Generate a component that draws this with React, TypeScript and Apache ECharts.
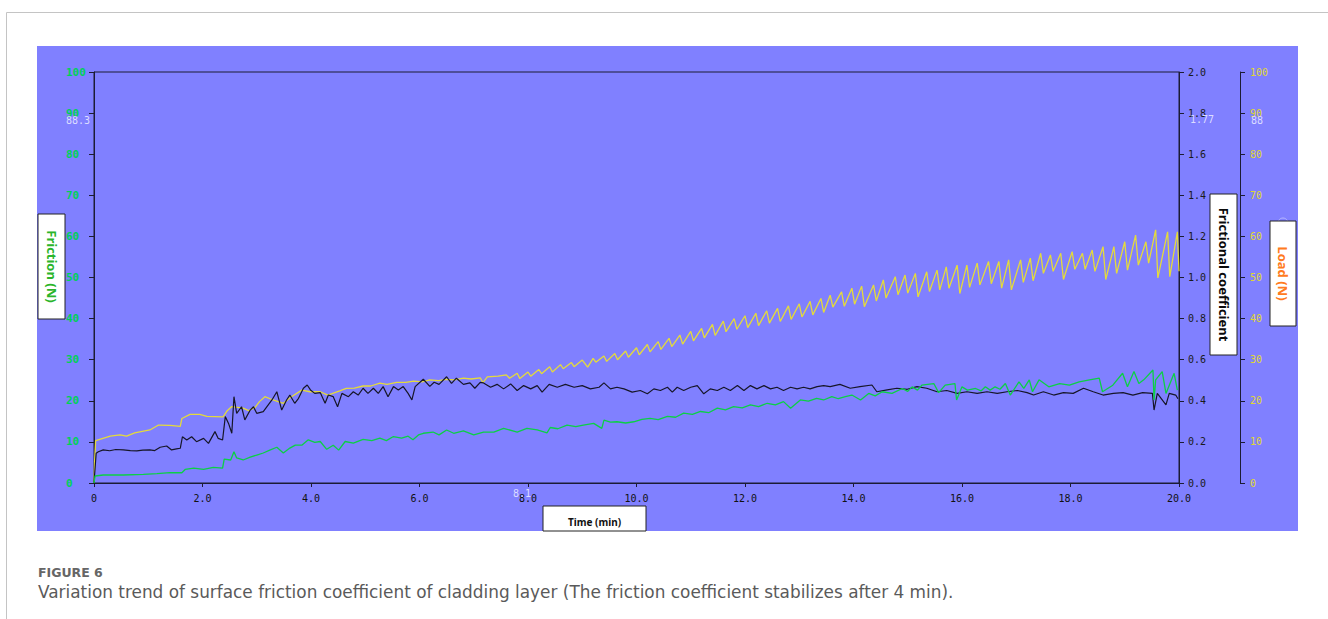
import React, { useEffect, useRef } from "react";
import * as echarts from "echarts";

// Time (min) ticks
const xTicks = [0, 2, 4, 6, 8, 10, 12, 14, 16, 18, 20];

// Load (N) — yellow, right outer axis
const loadData: [number, number][] = [
  [0, 0], [0.01, 5], [0.03, 10.3], [0.15, 10.8], [0.3, 11.4], [0.48, 11.7], [0.6, 11.4], [0.75, 12.2],
  [1.03, 12.9], [1.19, 14.1], [1.4, 14.0], [1.59, 13.8], [1.62, 15.7], [1.77, 16.7], [1.95, 16.7],
  [2.08, 16.2], [2.38, 16.1], [2.45, 17.5], [2.54, 18.6], [2.75, 18.2], [2.85, 17.6], [2.97, 18.4],
  [3.05, 19.8], [3.15, 21.0], [3.3, 20.2], [3.49, 19.4], [3.64, 21.0], [3.83, 22.6], [3.98, 22.2],
  [4.17, 22.2], [4.31, 21.4], [4.53, 22.4], [4.65, 23.0], [4.8, 23.1], [4.96, 23.6], [5.1, 23.6],
  [5.27, 24.3], [5.4, 24.0], [5.58, 24.5], [5.75, 24.5], [5.89, 24.8], [6.05, 24.6], [6.19, 25.1],
  [6.35, 24.9], [6.5, 25.2], [6.65, 25.1], [6.81, 25.5], [6.95, 25.3], [7.12, 25.6], [7.17, 24.4],
  [7.25, 25.8], [7.45, 26.0], [7.6, 26.3], [7.66, 25.5],
  [7.8, 26.7], [7.85, 25.4], [8.0, 27.0], [8.05, 26.0], [8.2, 27.6], [8.25, 26.6], [8.4, 28.3], [8.45, 27.0],
  [8.6, 28.8], [8.65, 27.8], [8.8, 29.3], [8.85, 28.3], [9.0, 29.9], [9.1, 28.2], [9.2, 30.3], [9.25, 29.4],
  [9.4, 30.9], [9.45, 29.6], [9.6, 31.5], [9.65, 30.0], [9.8, 32.1], [9.85, 30.6], [10.0, 32.9], [10.05, 31.2],
  [10.2, 33.7], [10.25, 31.9], [10.4, 34.4], [10.45, 32.5], [10.6, 35.2], [10.65, 33.2], [10.8, 36.0], [10.85, 33.8],
  [11.0, 36.9], [11.05, 34.6], [11.2, 37.6], [11.25, 35.3], [11.4, 38.6], [11.45, 35.9], [11.6, 39.4], [11.65, 36.8],
  [11.8, 40.0], [11.85, 37.4], [12.0, 40.7], [12.05, 37.8], [12.2, 41.3], [12.25, 38.3], [12.4, 41.9], [12.45, 38.9],
  [12.6, 42.5], [12.65, 39.3], [12.8, 43.1], [12.85, 39.8], [13.0, 43.6], [13.05, 40.4], [13.2, 44.2], [13.25, 40.9],
  [13.4, 44.9], [13.45, 41.5], [13.57, 45.7], [13.62, 42.8], [13.78, 46.5], [13.83, 43.0], [13.97, 47.4], [14.02, 43.5],
  [14.15, 47.9], [14.2, 42.9], [14.37, 48.2], [14.42, 44.3], [14.55, 49.4], [14.6, 45.0], [14.77, 50.2], [14.82, 45.8],
  [14.95, 50.6], [15.0, 46.2], [15.14, 51.0], [15.19, 45.3], [15.35, 51.4], [15.4, 46.6], [15.54, 51.8], [15.59, 47.0],
  [15.71, 52.6], [15.76, 47.4], [15.91, 53.0], [15.96, 46.1], [16.09, 53.0], [16.14, 47.6], [16.28, 53.5], [16.33, 48.2],
  [16.49, 53.9], [16.54, 48.5], [16.68, 53.9], [16.73, 47.4], [16.86, 54.3], [16.91, 47.0], [17.08, 54.3], [17.13, 48.8],
  [17.26, 54.7], [17.31, 49.2], [17.45, 55.9], [17.5, 51.0], [17.63, 55.5], [17.68, 51.5], [17.82, 55.9], [17.87, 49.5],
  [18.03, 56.3], [18.08, 52.0], [18.22, 55.9], [18.27, 52.0], [18.4, 56.7], [18.45, 51.5], [18.6, 57.5], [18.65, 49.5],
  [18.8, 57.5], [18.85, 51.0], [19.0, 58.7], [19.05, 51.8], [19.2, 60.3], [19.25, 53.0], [19.39, 58.7], [19.44, 53.5],
  [19.57, 61.6], [19.61, 49.9], [19.79, 61.1], [19.83, 50.2], [19.97, 61.1], [20.0, 51.5],
];

// Frictional coefficient — black, right inner axis
const coefData: [number, number][] = [
  [0, 0], [0.04, 0.145], [0.08, 0.152], [0.17, 0.161], [0.29, 0.157], [0.4, 0.163], [0.54, 0.161], [0.67, 0.158],
  [0.79, 0.156], [0.9, 0.16], [1.03, 0.161], [1.12, 0.158], [1.22, 0.174], [1.34, 0.18], [1.43, 0.161], [1.52, 0.166],
  [1.59, 0.169], [1.63, 0.225], [1.71, 0.209], [1.8, 0.225], [1.89, 0.201], [2.02, 0.217], [2.11, 0.193], [2.23, 0.25],
  [2.29, 0.217], [2.37, 0.209], [2.42, 0.323], [2.48, 0.29], [2.54, 0.242], [2.58, 0.42], [2.63, 0.339], [2.72, 0.371],
  [2.78, 0.307], [2.88, 0.355], [2.94, 0.371], [3.0, 0.339], [3.12, 0.347], [3.28, 0.404], [3.37, 0.444], [3.46, 0.355],
  [3.55, 0.404], [3.61, 0.428], [3.7, 0.388], [3.77, 0.412], [3.86, 0.461], [3.93, 0.477], [3.99, 0.453], [4.07, 0.436],
  [4.17, 0.44], [4.26, 0.388], [4.32, 0.428], [4.41, 0.42], [4.49, 0.371], [4.57, 0.436], [4.69, 0.42], [4.78, 0.444],
  [4.87, 0.428], [4.96, 0.461], [5.05, 0.436], [5.15, 0.461], [5.24, 0.436], [5.33, 0.469], [5.42, 0.42], [5.52, 0.469],
  [5.61, 0.453], [5.7, 0.469], [5.79, 0.436], [5.86, 0.404], [5.92, 0.469], [6.07, 0.505], [6.19, 0.47], [6.27, 0.49],
  [6.36, 0.48], [6.5, 0.517], [6.59, 0.485], [6.68, 0.51], [6.81, 0.48], [6.93, 0.487], [7.02, 0.461], [7.12, 0.49],
  [7.18, 0.487], [7.31, 0.466], [7.43, 0.48], [7.55, 0.458], [7.68, 0.482], [7.8, 0.45], [7.92, 0.474], [8.05, 0.458],
  [8.17, 0.474], [8.26, 0.442], [8.39, 0.48], [8.54, 0.466], [8.69, 0.48], [8.85, 0.466], [9.0, 0.474], [9.15, 0.458],
  [9.31, 0.466], [9.4, 0.487], [9.52, 0.458], [9.64, 0.466], [9.77, 0.458], [9.92, 0.442], [10.07, 0.45], [10.2, 0.434],
  [10.32, 0.458], [10.44, 0.45], [10.57, 0.466], [10.66, 0.442], [10.75, 0.466], [10.87, 0.45], [11.0, 0.466], [11.12, 0.474],
  [11.24, 0.434], [11.36, 0.458], [11.49, 0.45], [11.61, 0.466], [11.73, 0.45], [11.86, 0.474], [11.98, 0.45], [12.1, 0.474],
  [12.22, 0.458], [12.35, 0.474], [12.47, 0.458], [12.59, 0.466], [12.71, 0.45], [12.84, 0.466], [12.96, 0.458], [13.08, 0.466],
  [13.2, 0.458], [13.33, 0.469], [13.45, 0.474], [13.57, 0.469], [13.75, 0.48], [13.94, 0.461], [14.12, 0.469], [14.34, 0.477],
  [14.43, 0.444], [14.62, 0.453], [14.8, 0.461], [14.99, 0.456], [15.17, 0.469], [15.35, 0.461], [15.54, 0.444], [15.72, 0.45],
  [15.91, 0.436], [16.09, 0.444], [16.28, 0.436], [16.46, 0.444], [16.65, 0.436], [16.83, 0.444], [17.02, 0.45], [17.2, 0.44],
  [17.32, 0.428], [17.5, 0.444], [17.69, 0.428], [17.87, 0.44], [18.05, 0.436], [18.24, 0.461], [18.42, 0.444], [18.6, 0.428],
  [18.79, 0.436], [18.97, 0.44], [19.15, 0.428], [19.33, 0.44], [19.51, 0.436], [19.54, 0.355], [19.6, 0.436], [19.76, 0.38],
  [19.82, 0.436], [19.94, 0.428], [19.98, 0.41],
];

// Friction (N) — green, left axis
const frictionData: [number, number][] = [
  [0, 0], [0.02, 1.7], [0.17, 1.95], [0.54, 1.95], [0.91, 2.1], [1.16, 2.3], [1.4, 2.5], [1.62, 2.5], [1.68, 3.3],
  [1.84, 3.6], [2.02, 3.3], [2.2, 3.8], [2.37, 3.6], [2.4, 5.8], [2.52, 5.6], [2.58, 7.6], [2.63, 6.1], [2.75, 5.6],
  [2.88, 6.3], [3.0, 6.8], [3.12, 7.3], [3.24, 8.0], [3.37, 8.7], [3.49, 7.3], [3.61, 8.5], [3.71, 9.2], [3.83, 9.2],
  [3.95, 10.5], [4.07, 9.9], [4.17, 10.1], [4.29, 8.2], [4.41, 9.2], [4.51, 8.0], [4.63, 10.1], [4.78, 9.7], [4.96, 10.6],
  [5.12, 10.3], [5.27, 10.9], [5.39, 10.3], [5.52, 11.3], [5.67, 10.9], [5.79, 11.4], [5.88, 10.5], [5.98, 11.7],
  [6.07, 12.1], [6.25, 12.4], [6.36, 11.7], [6.5, 12.9], [6.63, 12.1], [6.81, 12.7], [7.0, 11.7], [7.18, 12.4],
  [7.37, 12.4], [7.55, 13.3], [7.8, 12.4], [7.98, 13.3], [8.17, 12.9], [8.35, 12.2], [8.41, 13.5], [8.55, 13.2],
  [8.72, 14.1], [8.88, 13.7], [9.02, 14.1], [9.21, 14.5], [9.36, 13.3], [9.4, 15.3], [9.52, 14.8], [9.64, 14.9],
  [9.8, 14.6], [9.95, 14.9], [10.1, 15.5], [10.25, 15.7], [10.4, 15.4], [10.57, 16.2], [10.72, 16.0], [10.87, 17.0],
  [11.03, 16.7], [11.18, 17.4], [11.33, 17.1], [11.49, 18.2], [11.64, 17.8], [11.79, 18.6], [11.95, 18.3], [12.1, 19.0],
  [12.25, 18.6], [12.41, 19.4], [12.56, 19.0], [12.71, 19.8], [12.84, 18.2], [13.02, 20.2], [13.17, 19.9], [13.32, 20.6],
  [13.45, 20.2], [13.6, 21.0], [13.72, 20.5], [13.85, 21.0], [13.97, 21.4], [14.13, 20.2], [14.28, 21.8], [14.4, 21.2],
  [14.53, 22.2], [14.71, 21.8], [14.9, 23.0], [15.0, 22.3], [15.08, 23.4], [15.18, 22.6], [15.26, 23.8], [15.48, 24.2],
  [15.57, 22.0], [15.69, 23.8], [15.87, 24.2], [15.9, 20.2], [16.0, 23.4], [16.1, 22.6], [16.25, 23.0], [16.35, 22.4],
  [16.43, 23.4], [16.52, 22.6], [16.61, 23.4], [16.7, 22.8], [16.8, 24.2], [16.89, 21.4], [17.05, 24.6], [17.14, 23.0],
  [17.24, 25.1], [17.3, 22.2], [17.42, 25.1], [17.6, 23.4], [17.8, 24.2], [17.98, 23.8], [18.16, 24.6], [18.35, 25.1],
  [18.53, 25.5], [18.59, 22.2], [18.78, 23.8], [18.96, 26.7], [19.05, 23.4], [19.17, 27.1], [19.26, 24.2], [19.35, 25.1],
  [19.52, 27.5], [19.54, 20.2], [19.57, 25.1], [19.69, 27.1], [19.76, 21.8], [19.91, 26.7], [19.97, 22.6],
];

const MONO = "'DejaVu Sans Mono', monospace";
const SANS = "'Noto Sans', 'Open Sans', sans-serif";
const CAPTION = "'DejaVu Sans', sans-serif";

export default function App() {
  const ref = useRef<HTMLDivElement>(null);

  useEffect(() => {
    if (!ref.current) return;
    const chart = echarts.init(ref.current, undefined, { renderer: "svg" });
    const axisLineColor = "#1c1c34";

    const nameBox = (
      x: number, y: number, w: number, h: number, text: string, color: string, size: number
    ) => ({
      type: "group",
      children: [
        { type: "rect", shape: { x, y, width: w, height: h }, style: { fill: "#ffffff", stroke: "#222", lineWidth: 1 }, z: 100 },
        {
          type: "text",
          x: x + w / 2,
          y: y + h / 2,
          rotation: -Math.PI / 2,
          style: { text, fill: color, font: `bold ${size}px ${SANS}`, align: "center", verticalAlign: "middle" },
          z: 101,
        },
      ],
    });

    const option: any = {
      animation: false,
      backgroundColor: "transparent",
      grid: { left: 94, right: 149, top: 72, bottom: 136, show: true, borderColor: axisLineColor, borderWidth: 1, backgroundColor: "transparent" },
      xAxis: {
        type: "value",
        min: 0,
        max: 20,
        interval: 2,
        axisLine: { show: true, lineStyle: { color: axisLineColor } },
        axisTick: { show: true, length: 4, lineStyle: { color: axisLineColor } },
        splitLine: { show: false },
        axisLabel: {
          formatter: (v: number) => (v === 0 ? "0" : v.toFixed(1)),
          fontFamily: MONO,
          fontSize: 10,
          color: "#111",
          margin: 10,
          customValues: xTicks,
        },
      },
      yAxis: [
        {
          type: "value",
          position: "left",
          min: 0,
          max: 100,
          interval: 10,
          axisLine: { show: true, lineStyle: { color: axisLineColor } },
          axisTick: { show: true, length: 5, lineStyle: { color: axisLineColor } },
          splitLine: { show: false },
          axisLabel: { fontFamily: MONO, fontSize: 11, fontWeight: "bold", color: "#00d058", align: "left", margin: 28 },
        },
        {
          type: "value",
          position: "right",
          min: 0,
          max: 2,
          interval: 0.2,
          axisLine: { show: true, lineStyle: { color: axisLineColor } },
          axisTick: { show: true, length: 5, lineStyle: { color: axisLineColor } },
          splitLine: { show: false },
          axisLabel: { fontFamily: MONO, fontSize: 10, color: "#1a1a1a", margin: 9, formatter: (v: number) => v.toFixed(1) },
        },
        {
          type: "value",
          position: "right",
          offset: 61,
          min: 0,
          max: 100,
          interval: 10,
          axisLine: { show: true, lineStyle: { color: axisLineColor } },
          axisTick: { show: true, length: 5, lineStyle: { color: axisLineColor } },
          splitLine: { show: false },
          axisLabel: { fontFamily: MONO, fontSize: 10, color: "#e0d830", margin: 10 },
        },
      ],
      series: [
        {
          name: "Load (N)",
          type: "line",
          yAxisIndex: 2,
          data: loadData,
          showSymbol: false,
          symbol: "none",
          lineStyle: { color: "#e4da3c", width: 1.3 },
          z: 2,
        },
        {
          name: "Frictional coefficient",
          type: "line",
          yAxisIndex: 1,
          data: coefData,
          showSymbol: false,
          symbol: "none",
          lineStyle: { color: "#161628", width: 1.2 },
          z: 3,
        },
        {
          name: "Friction (N)",
          type: "line",
          yAxisIndex: 0,
          data: frictionData,
          showSymbol: false,
          symbol: "none",
          lineStyle: { color: "#0ccf45", width: 1.3 },
          z: 4,
        },
      ],
      graphic: [
        // page frame
        { type: "line", shape: { x1: 6.5, y1: 12.5, x2: 1328, y2: 12.5 }, style: { stroke: "#c4c4c4", lineWidth: 1 } },
        { type: "line", shape: { x1: 6.5, y1: 12.5, x2: 6.5, y2: 619 }, style: { stroke: "#c4c4c4", lineWidth: 1 } },
        // cursor readouts
        { type: "text", x: 66, y: 120, style: { text: "88.3", fill: "#dcdcff", font: `10px ${MONO}`, verticalAlign: "middle" }, z: 50 },
        { type: "text", x: 1190, y: 119, style: { text: "1.77", fill: "#dcdcff", font: `10px ${MONO}`, verticalAlign: "middle" }, z: 50 },
        { type: "text", x: 1251, y: 120, style: { text: "88", fill: "#dcdcff", font: `10px ${MONO}`, verticalAlign: "middle" }, z: 50 },
        { type: "text", x: 513, y: 493, style: { text: "8.1", fill: "#dcdcff", font: `10px ${MONO}`, verticalAlign: "middle" }, z: 50 },
        { type: "circle", shape: { cx: 1283, cy: 223, r: 5 }, style: { fill: "none", stroke: "#b8b8ff", lineWidth: 1 }, z: 50 },
        // axis name boxes
        nameBox(38, 214, 27, 105, "Friction (N)", "#2bb52b", 13),
        nameBox(1210, 194, 27, 161, "Frictional coefficient", "#0a0a0a", 13),
        nameBox(1270, 221, 26, 105, "Load (N)", "#ff7a20", 13),
        {
          type: "group",
          children: [
            { type: "rect", shape: { x: 543, y: 506, width: 103, height: 25 }, style: { fill: "#ffffff", stroke: "#222", lineWidth: 1 }, z: 100 },
            { type: "text", x: 594.5, y: 522, style: { text: "Time (min)", fill: "#111", font: `bold 10px ${SANS}`, align: "center", verticalAlign: "middle" }, z: 101 },
          ],
        },
        // caption
        { type: "text", x: 38, y: 572, style: { text: "FIGURE 6", fill: "#666666", font: `bold 12.5px ${CAPTION}`, verticalAlign: "middle" } },
        {
          type: "text",
          x: 38,
          y: 592,
          style: {
            text: "Variation trend of surface friction coefficient of cladding layer (The friction coefficient stabilizes after 4 min).",
            fill: "#5a5a5a",
            font: `16.9px ${CAPTION}`,
            verticalAlign: "middle",
          },
        },
      ],
    };

    chart.setOption(option);
    return () => chart.dispose();
  }, []);

  return (
    <div style={{ position: "absolute", left: 0, top: 0, width: 1328, height: 619, background: "#ffffff", overflow: "hidden" }}>
      <div style={{ position: "absolute", left: 37, top: 46, width: 1261, height: 485, background: "#8080ff" }} />
      <div ref={ref} style={{ position: "absolute", left: 0, top: 0, width: 1328, height: 619 }} />
    </div>
  );
}
